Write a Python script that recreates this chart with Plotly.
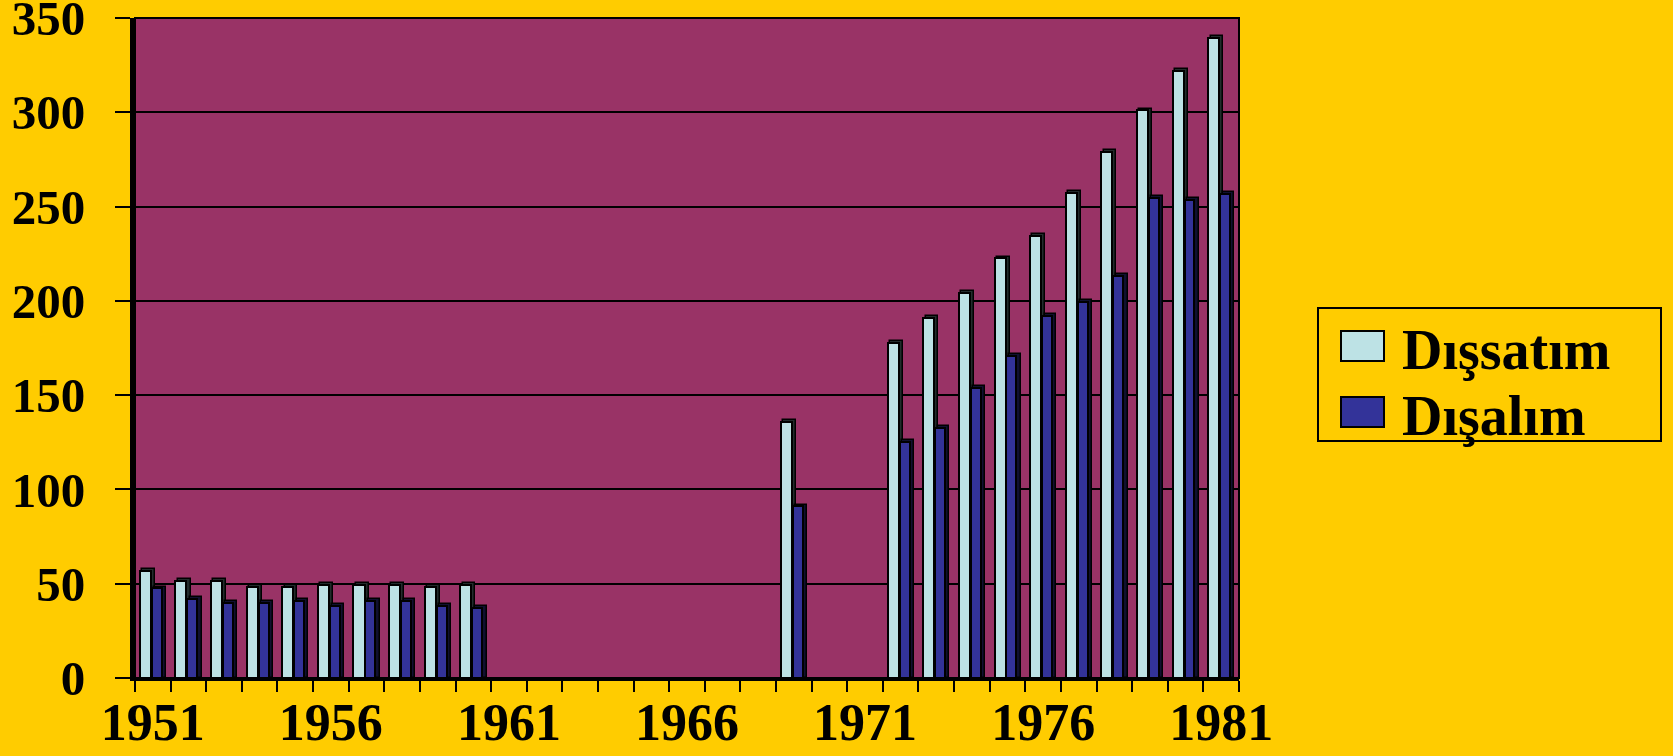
import plotly.graph_objects as go

years = list(range(1951, 1982))
# Dışsatım (exports) and Dışalım (imports); None = no data
dissatim = [57, 51.5, 51.5, 48.5, 48.5, 49.5, 49.5, 49.5, 48.5, 49.5,
            None, None, None, None, None, None, None, None, 136, None,
            None, 177.5, 191, 204, 222.5, 234.5, 257, 279, 301, 322, 339.5]
disalim = [47.5, 42, 40, 40, 41, 38, 41, 41, 38, 37,
           None, None, None, None, None, None, None, None, 91, None,
           None, 125, 132.5, 154, 171, 192, 199.5, 213, 254.5, 253.5, 256.5]
tick_years = [1951, 1956, 1961, 1966, 1971, 1976, 1981]
series_names = ["Dışsatım", "Dışalım"]

BG = "#FFCC00"
PLOT_BG = "#993366"
LIGHT = "#BDE2E5"
DARK = "#333399"
FONT = "Liberation Serif"

W, H = 1673, 756
L, R, T, B = 135, 1239, 18, 678


def depth(vals, add=1.0):
    return [None if v is None else v + add for v in vals]


fig = go.Figure()
# light series: depth then face
fig.add_trace(go.Bar(x=years, y=depth(dissatim), offset=-0.30, width=0.36,
                     marker=dict(color="#222c2c", line=dict(color="black", width=1.5)),
                     showlegend=False, hoverinfo="skip"))
fig.add_trace(go.Bar(x=years, y=dissatim, offset=-0.365, width=0.31, name=series_names[0],
                     marker=dict(color=LIGHT, line=dict(color="black", width=2)),
                     showlegend=False))
# dark series: depth then face
fig.add_trace(go.Bar(x=years, y=depth(disalim), offset=0.04, width=0.33,
                     marker=dict(color="#101030", line=dict(color="black", width=1.5)),
                     showlegend=False, hoverinfo="skip"))
fig.add_trace(go.Bar(x=years, y=disalim, offset=-0.03, width=0.28, name=series_names[1],
                     marker=dict(color=DARK, line=dict(color="black", width=2)),
                     showlegend=False))


def px(xp):
    return (xp - L) / (R - L)


def py(yp):
    return (B - yp) / (B - T)


shapes = [
    dict(type="rect", xref="paper", yref="paper", x0=0, x1=1, y0=0, y1=1,
         line=dict(color="black", width=2), layer="above"),
    dict(type="rect", xref="paper", yref="paper", x0=px(1318), x1=px(1661),
         y0=py(441), y1=py(308), line=dict(color="black", width=2), fillcolor=BG),
    dict(type="rect", xref="paper", yref="paper", x0=px(1341), x1=px(1384),
         y0=py(361), y1=py(331), line=dict(color="black", width=2), fillcolor=LIGHT),
    dict(type="rect", xref="paper", yref="paper", x0=px(1341), x1=px(1384),
         y0=py(427), y1=py(397), line=dict(color="black", width=2), fillcolor=DARK),
]
annotations = [
    dict(xref="paper", yref="paper", x=px(1400), y=py(350), text=series_names[0],
         showarrow=False, xanchor="left", yanchor="middle",
         font=dict(family=FONT, size=56, color="black", weight="bold")),
    dict(xref="paper", yref="paper", x=px(1400), y=py(416), text=series_names[1],
         showarrow=False, xanchor="left", yanchor="middle",
         font=dict(family=FONT, size=56, color="black", weight="bold")),
]

fig.update_layout(
    width=W, height=H, autosize=False,
    margin=dict(l=L, r=W - R, t=T, b=H - B, pad=0, autoexpand=False),
    paper_bgcolor=BG, plot_bgcolor=PLOT_BG,
    barmode="overlay", bargap=0,
    showlegend=False,
    shapes=shapes, annotations=annotations,
    font=dict(family=FONT, size=56, color="black", weight="bold"),
    xaxis=dict(range=[1950.5, 1981.5], tickmode="array", tickvals=tick_years,
               ticktext=[str(t) for t in tick_years], ticks="", showgrid=False,
               zeroline=False, showline=True, linecolor="black", linewidth=3,
               ticklabelstandoff=-3, automargin=False, ticklabeloverflow="allow",
               tickfont=dict(family=FONT, size=52, color="black", weight="bold"),
               minor=dict(tick0=1950.5, dtick=1, ticks="outside", ticklen=11,
                          tickwidth=2, tickcolor="black", showgrid=False)),
    yaxis=dict(range=[0, 350], dtick=50, tick0=0, ticks="outside", ticklen=15,
               tickwidth=2, tickcolor="black", showgrid=True, gridcolor="black",
               gridwidth=2, zeroline=False, showline=True, linecolor="black",
               linewidth=5, ticklabelstandoff=20, automargin=False,
               ticklabeloverflow="allow",
               tickfont=dict(family=FONT, size=49, color="black", weight="bold")),
)

fig.write_html("out.html", config={"displayModeBar": False},
               post_script="document.body.style.margin='0';document.body.style.padding='0';")
